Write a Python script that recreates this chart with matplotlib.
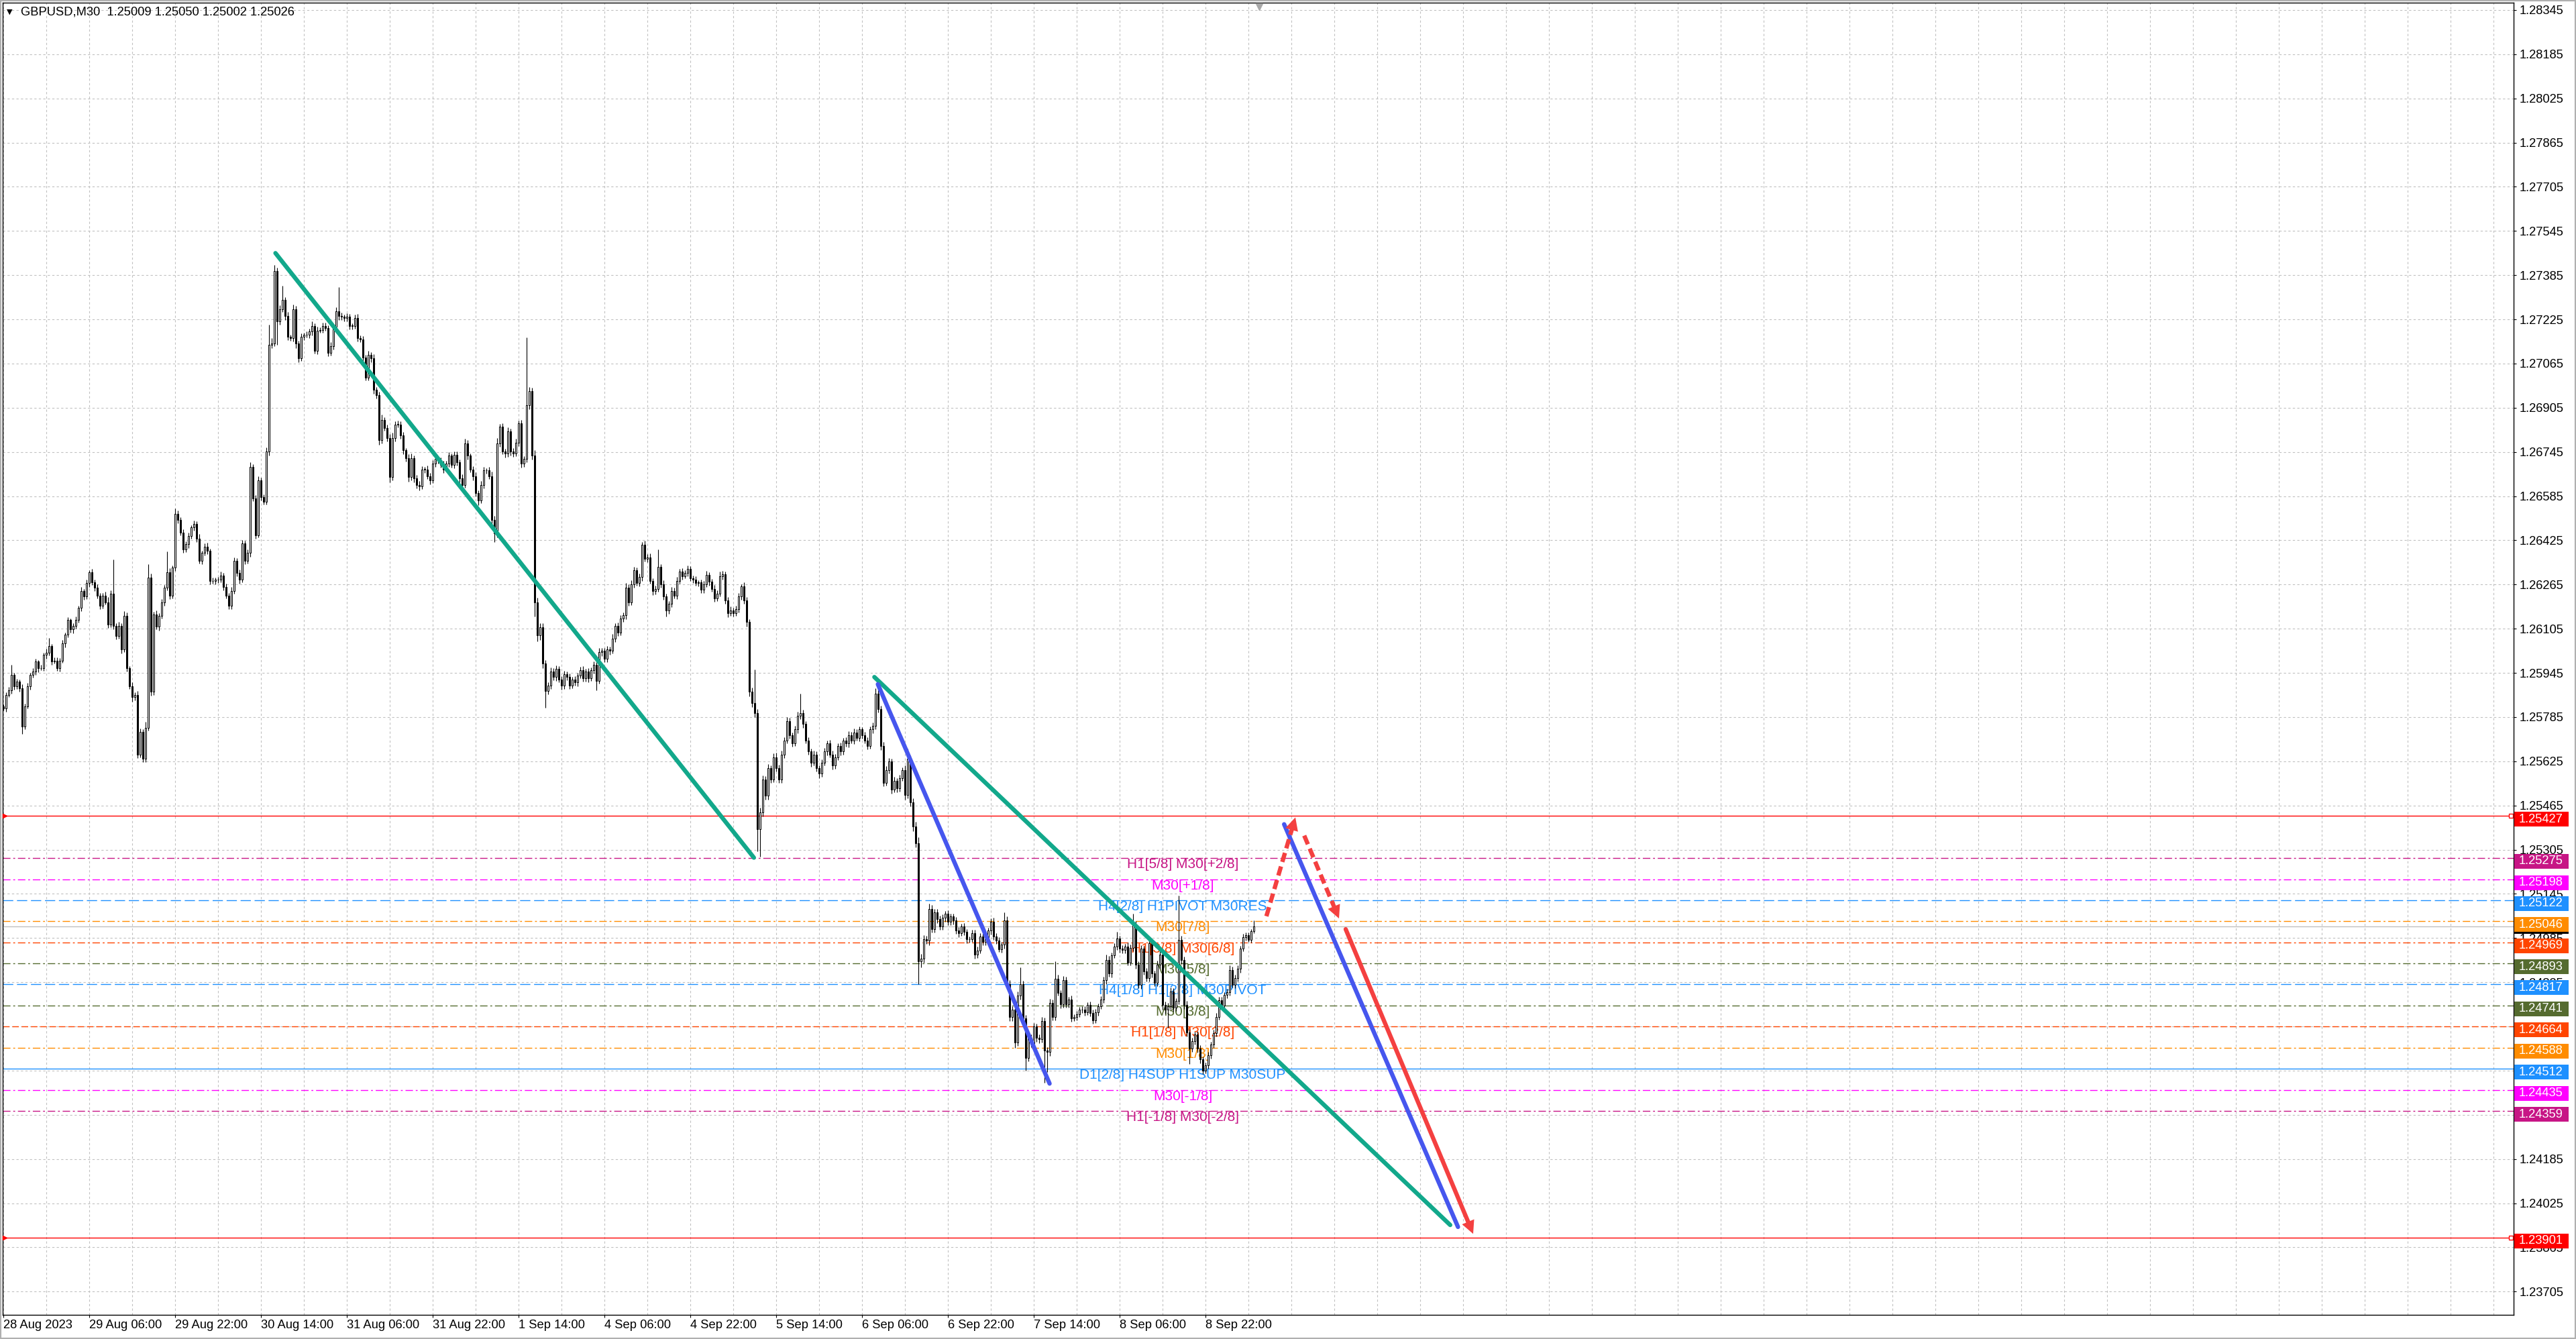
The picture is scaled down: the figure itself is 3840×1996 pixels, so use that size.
import numpy as np
import matplotlib.pyplot as plt
from matplotlib.patches import Rectangle
from matplotlib.transforms import IdentityTransform, blended_transform_factory

# GBPUSD M30, prices in points above 1.20000 (1 point = 0.00001)
first_open = 5824
closes = [
    5816, 5865, 5881, 5937, 5897, 5913, 5889, 5751, 5824, 5897,
    5937, 5950, 5986, 5962, 5962, 6010, 6018, 6043, 5986, 5990,
    5962, 5990, 6051, 6083, 6136, 6103, 6116, 6136, 6180, 6241,
    6221, 6270, 6310, 6274, 6253, 6225, 6189, 6225, 6201, 6120,
    6233, 6116, 6079, 6116, 6031, 6152, 5962, 5897, 5857, 5865,
    5650, 5731, 5634, 5747, 6290, 5877, 6156, 6112, 6152, 6201,
    6253, 6310, 6225, 6326, 6521, 6500, 6452, 6391, 6411, 6440,
    6472, 6484, 6432, 6350, 6379, 6403, 6387, 6278, 6278, 6282,
    6282, 6298, 6257, 6225, 6189, 6241, 6350, 6306, 6282, 6415,
    6350, 6379, 6691, 6577, 6444, 6642, 6581, 6565, 6747, 7133,
    7137, 7400, 7218, 7262, 7295, 7238, 7161, 7157, 7262, 7137,
    7084, 7161, 7169, 7169, 7181, 7202, 7112, 7185, 7187, 7202,
    7194, 7104, 7129, 7198, 7254, 7238, 7234, 7230, 7234, 7202,
    7202, 7230, 7157, 7153, 7088, 7015, 7096, 7084, 6970, 6950,
    6788, 6861, 6832, 6796, 6654, 6796, 6845, 6845, 6804, 6751,
    6723, 6654, 6723, 6650, 6626, 6621, 6682, 6682, 6658, 6642,
    6703, 6719, 6715, 6699, 6682, 6703, 6731, 6699, 6735, 6707,
    6650, 6626, 6776, 6731, 6682, 6658, 6597, 6569, 6626, 6678,
    6678, 6658, 6500, 6450, 6776, 6836, 6747, 6739, 6820, 6747,
    6739, 6779, 6849, 6703, 6719, 6914, 6966, 6731, 6200, 6080,
    6110, 5980, 5880, 5900, 5950, 5930, 5960, 5920, 5900, 5940,
    5930, 5900, 5920, 5910, 5935, 5955, 5925, 5950, 5925, 5954,
    5974, 5916, 6020, 6025, 5995, 6029, 6025, 6070, 6116, 6091,
    6141, 6154, 6254, 6200, 6267, 6317, 6271, 6292, 6408, 6358,
    6363, 6279, 6242, 6250, 6329, 6267, 6221, 6171, 6196, 6242,
    6225, 6279, 6312, 6296, 6308, 6321, 6287, 6283, 6271, 6272,
    6246, 6267, 6300, 6275, 6250, 6216, 6233, 6296, 6302, 6208,
    6162, 6172, 6162, 6175, 6221, 6258, 6208, 6129, 5878, 5837,
    5799, 5380, 5440, 5560, 5500, 5600, 5560, 5640, 5600, 5560,
    5650, 5700, 5770, 5720, 5690, 5740, 5790, 5800, 5760, 5700,
    5660, 5620, 5650, 5600, 5580, 5620, 5660, 5690, 5650, 5610,
    5640, 5680, 5660, 5700, 5690, 5720, 5700, 5730, 5710, 5740,
    5720, 5700, 5681, 5740, 5753, 5870, 5814, 5681, 5548, 5594,
    5625, 5523, 5554, 5528, 5564, 5594, 5502, 5635, 5477, 5390,
    5329, 4900, 4910, 4981, 4976, 5089, 5017, 5078, 5053, 5027,
    5058, 5073, 5043, 5063, 5048, 5012, 5002, 5027, 5007, 4981,
    4981, 5002, 4925, 4940, 4991, 4971, 4981, 5012, 5043, 4991,
    4976, 4945, 4961, 5048, 4818, 4700, 4726, 4608, 4777, 4818,
    4695, 4552, 4624, 4603, 4664, 4624, 4618, 4685, 4578, 4573,
    4751, 4700, 4838, 4787, 4746, 4833, 4746, 4762, 4695, 4700,
    4710, 4726, 4726, 4717, 4742, 4713, 4688, 4717, 4738, 4762,
    4832, 4905, 4856, 4922, 4954, 4983, 4946, 4942, 4954, 4897,
    4950, 5032, 4889, 4815, 4946, 4864, 4840, 4967, 4856, 4823,
    4889, 4926, 4742, 4725, 4738, 4791, 4733, 4758, 4979, 4905,
    4742, 4644, 4586, 4611, 4635, 4586, 4545, 4504, 4525, 4560,
    4600, 4640, 4700, 4760, 4740, 4780, 4790, 4870, 4815, 4840,
    4873, 4946, 4987, 4995, 4979, 5009, 5026,
]
up_wick = [
    6, 9, 12, 37, 8, 10, 7, 14, 9, 11,
    8, 13, 10, 6, 12, 9, 15, 28, 7, 10,
    11, 8, 14, 9, 12, 7, 10, 13, 8, 16,
    9, 12, 7, 11, 8, 14, 10, 9, 13, 18,
    12, 122, 10, 14, 9, 16, 11, 8, 13, 10,
    15, 12, 9, 20, 48, 14, 11, 16, 9, 12,
    10, 75, 13, 8, 20, 11, 9, 14, 10, 12,
    8, 13, 10, 15, 9, 11, 14, 7, 12, 9,
    10, 13, 8, 11, 9, 16, 12, 10, 14, 11,
    9, 13, 18, 10, 12, 15, 9, 11, 14, 73,
    20, 21, 12, 15, 51, 10, 13, 9, 16, 12,
    11, 14, 8, 12, 10, 15, 9, 13, 8, 11,
    12, 10, 14, 9, 16, 88, 11, 8, 12, 10,
    9, 13, 15, 10, 12, 9, 14, 11, 16, 10,
    13, 20, 9, 12, 15, 18, 11, 14, 10, 12,
    9, 13, 16, 10, 12, 14, 11, 9, 13, 10,
    12, 15, 9, 11, 14, 10, 13, 8, 12, 11,
    10, 14, 18, 12, 9, 11, 13, 10, 15, 12,
    9, 12, 16, 14, 20, 11, 13, 9, 15, 10,
    12, 14, 10, 13, 11, 246, 15, 12, 20, 18,
    14, 16, 12, 10, 15, 11, 13, 9, 14, 12,
    10, 13, 11, 14, 9, 12, 15, 10, 13, 11,
    12, 9, 14, 11, 10, 13, 12, 15, 9, 11,
    13, 10, 16, 12, 14, 11, 9, 13, 10, 15,
    12, 14, 9, 11, 63, 10, 13, 12, 9, 14,
    11, 13, 10, 12, 9, 14, 11, 10, 13, 8,
    12, 10, 14, 9, 11, 13, 10, 15, 12, 9,
    11, 13, 10, 12, 14, 9, 16, 11, 10, 13,
    121, 15, 18, 14, 12, 16, 11, 13, 15, 12,
    14, 11, 16, 12, 10, 13, 15, 70, 12, 11,
    13, 10, 14, 12, 9, 11, 13, 10, 12, 14,
    11, 9, 13, 10, 12, 14, 11, 13, 10, 12,
    9, 11, 13, 10, 12, 20, 14, 11, 15, 13,
    12, 10, 14, 11, 13, 9, 15, 36, 12, 14,
    16, 22, 18, 14, 12, 20, 15, 13, 11, 14,
    12, 10, 13, 11, 9, 14, 12, 10, 13, 11,
    10, 13, 12, 14, 11, 9, 13, 10, 12, 15,
    11, 13, 10, 30, 16, 14, 12, 18, 15, 61,
    13, 11, 16, 12, 14, 10, 13, 15, 12, 11,
    14, 12, 62, 13, 10, 15, 12, 11, 14, 10,
    12, 9, 11, 13, 10, 12, 14, 11, 9, 13,
    12, 21, 14, 11, 13, 25, 10, 12, 9, 14,
    11, 41, 15, 12, 14, 10, 13, 16, 12, 11,
    13, 10, 14, 12, 11, 15, 13, 10, 159, 14,
    12, 15, 11, 13, 10, 14, 12, 11, 9, 13,
    10, 12, 14, 11, 13, 10, 12, 15, 11, 13,
    12, 10, 14, 9, 11, 8, 24,
]
down_wick = [
    8, 11, 7, 10, 13, 9, 12, 28, 10, 8,
    12, 9, 11, 14, 8, 10, 13, 9, 12, 7,
    10, 12, 9, 13, 8, 11, 14, 10, 9, 12,
    11, 8, 13, 10, 12, 9, 14, 11, 8, 13,
    10, 14, 12, 9, 15, 11, 13, 10, 16, 12,
    14, 11, 12, 13, 10, 15, 12, 9, 14, 11,
    12, 10, 13, 9, 11, 14, 10, 12, 8, 13,
    9, 11, 14, 10, 12, 8, 13, 11, 10, 12,
    11, 9, 13, 10, 12, 14, 9, 11, 13, 10,
    12, 10, 14, 11, 13, 9, 12, 10, 11, 14,
    12, 10, 85, 13, 11, 14, 12, 10, 13, 15,
    14, 10, 12, 9, 11, 13, 10, 12, 8, 11,
    10, 13, 11, 12, 9, 14, 10, 12, 11, 13,
    12, 10, 13, 11, 14, 12, 10, 13, 15, 11,
    16, 12, 10, 14, 18, 11, 13, 10, 12, 15,
    13, 16, 11, 14, 12, 15, 10, 13, 11, 14,
    10, 12, 13, 11, 14, 9, 12, 10, 13, 11,
    14, 12, 10, 13, 11, 15, 12, 16, 10, 13,
    11, 12, 20, 30, 14, 12, 10, 13, 11, 14,
    12, 10, 13, 15, 11, 12, 14, 13, 50, 20,
    15, 18, 60, 12, 14, 11, 13, 10, 15, 12,
    11, 14, 10, 12, 13, 9, 12, 11, 14, 10,
    12, 33, 10, 13, 11, 12, 14, 10, 12, 13,
    11, 10, 14, 12, 10, 13, 11, 12, 14, 10,
    13, 11, 14, 12, 10, 13, 12, 21, 11, 12,
    10, 13, 11, 12, 9, 14, 10, 12, 11, 13,
    11, 12, 10, 13, 12, 14, 11, 10, 13, 12,
    14, 11, 13, 10, 12, 11, 13, 15, 18, 16,
    14, 80, 100, 15, 13, 14, 12, 11, 13, 14,
    12, 14, 11, 13, 12, 10, 14, 12, 13, 11,
    12, 14, 11, 13, 15, 12, 10, 13, 11, 14,
    12, 10, 13, 11, 12, 14, 10, 12, 11, 13,
    12, 11, 13, 10, 14, 12, 13, 15, 14, 12,
    13, 15, 11, 14, 12, 10, 16, 12, 14, 18,
    15, 82, 20, 14, 12, 16, 13, 11, 14, 12,
    11, 13, 10, 12, 14, 11, 13, 10, 12, 14,
    12, 11, 14, 13, 10, 12, 11, 13, 14, 12,
    13, 11, 12, 14, 18, 16, 15, 20, 13, 14,
    15, 46, 14, 13, 12, 15, 14, 12, 118, 73,
    14, 12, 13, 11, 15, 12, 14, 13, 12, 11,
    13, 11, 12, 14, 10, 12, 13, 11, 12, 10,
    12, 14, 11, 13, 10, 12, 14, 11, 13, 12,
    11, 13, 14, 12, 15, 11, 13, 12, 14, 11,
    12, 14, 15, 13, 65, 12, 14, 11, 13, 15,
    13, 16, 57, 14, 12, 15, 13, 12, 8, 14,
    11, 13, 12, 10, 14, 11, 13, 12, 10, 12,
    11, 13, 10, 12, 9, 11, 7,
]

time_labels = ['28 Aug 2023', '29 Aug 06:00', '29 Aug 22:00', '30 Aug 14:00',
               '31 Aug 06:00', '31 Aug 22:00', '1 Sep 14:00', '4 Sep 06:00',
               '4 Sep 22:00', '5 Sep 14:00', '6 Sep 06:00', '6 Sep 22:00',
               '7 Sep 14:00', '8 Sep 06:00', '8 Sep 22:00']

# murrey math levels
level_prices = [1.25427, 1.25275, 1.25198, 1.25122, 1.25046, 1.24969, 1.24893,
                1.24817, 1.24741, 1.24664, 1.24588, 1.24512, 1.24435, 1.24359, 1.23901]
level_colors = ['#FF0000', '#C71585', '#FF00FF', '#1E90FF', '#FF8C00', '#FF4500', '#556B2F',
                '#1E90FF', '#556B2F', '#FF4500', '#FF8C00', '#1E90FF', '#FF00FF', '#C71585', '#FF0000']
level_texts = [None, 'H1[5/8] M30[+2/8]', 'M30[+1/8]', 'H4[2/8] H1PIVOT M30RES', 'M30[7/8]',
               'H1[3/8] M30[6/8]', 'M30[5/8]', 'H4[1/8] H1[2/8] M30PIVOT', 'M30[3/8]',
               'H1[1/8] M30[2/8]', 'M30[1/8]', 'D1[2/8] H4SUP H1SUP M30SUP', 'M30[-1/8]',
               'H1[-1/8] M30[-2/8]', None]
DD = (0, (8, 3, 2, 3))
LD = (0, (11, 4))
level_styles = ['-', DD, DD, LD, DD, DD, DD, LD, DD, (0, (7, 3)), DD, '-', DD, DD, '-']
bid_price = 1.25026

# drawn objects (bar index, price)
green_lines = [((101.4, 1.27465), (279.7, 1.25276)), ((324.6, 1.25930), (539.2, 1.23946))]
blue_lines = [((325.9, 1.25904), (389.9, 1.24458)), ((477.3, 1.25397), (542.1, 1.23939))]
red_dashed_arrows = [((470.7, 1.25064), (481.5, 1.25422)), ((484.8, 1.25356), (497.75, 1.25056))]
red_arrow = ((500.25, 1.25017), (547.75, 1.23914))

FONT = 'Liberation Sans'
W, H = 3840, 1996
fig = plt.figure(figsize=(W / 100, H / 100), dpi=100)
ax = fig.add_axes([4 / W, 36 / H, 3743 / W, 1956 / H])
ax.set_xlim(-0.25, 935.5)
ax.set_ylim(1.236207, 1.283717)

# grid
yticks = np.arange(1.23705, 1.2836, 0.0016)
for p in yticks:
    ax.axhline(p, color='#c0c0c0', lw=0.8, ls=(0, (3, 3)), zorder=0.5)
for b in range(0, 936, 16):
    ax.axvline(b, color='#c0c0c0', lw=0.8, ls=(0, (3, 3)), zorder=0.5)

# levels
for p, col, ls, txt in zip(level_prices, level_colors, level_styles, level_texts):
    ax.axhline(p, color=col, lw=1.0, ls=ls, zorder=1)
    if txt:
        ax.text(439.5, p, txt, color=col, fontsize=15, family=FONT, ha='center', va='top', zorder=1.5)
ax.axhline(bid_price, color='#c0c0c0', lw=1.0, zorder=1)

# candles
c = 1.2 + np.array(closes) / 1e5
o = np.r_[1.2 + first_open / 1e5, c[:-1]]
hi = np.maximum(o, c) + np.array(up_wick) / 1e5
lo = np.minimum(o, c) - np.array(down_wick) / 1e5
x = np.arange(len(c))
ax.vlines(x, lo, hi, color='black', lw=0.8, zorder=3)
bull = c >= o
hgt = np.maximum(np.abs(c - o), 0.000004)
ax.bar(x[bull], hgt[bull], bottom=o[bull], width=0.7, color='white', edgecolor='black', lw=0.75, zorder=3.1)
ax.bar(x[~bull], hgt[~bull], bottom=c[~bull], width=0.7, color='black', edgecolor='black', lw=0.75, zorder=3.1)

# trend lines
for (a, b) in green_lines:
    ax.plot([a[0], b[0]], [a[1], b[1]], color='#12A88B', lw=4.6, solid_capstyle='round', zorder=4)
for (a, b) in blue_lines:
    ax.plot([a[0], b[0]], [a[1], b[1]], color='#4656EE', lw=4.6, solid_capstyle='round', zorder=4)

RED = '#F44040'


def arrow(p0, p1, dashed):
    a = ax.transData.transform(p0)
    b = ax.transData.transform(p1)
    d = b - a
    cut = ax.transData.inverted().transform(b - d / np.hypot(*d) * 16)
    kw = dict(dashes=(2.2, 1.1), dash_capstyle='butt') if dashed else dict(solid_capstyle='round')
    ax.plot([p0[0], cut[0]], [p0[1], cut[1]], color=RED, lw=4.6, zorder=4, **kw)
    ax.annotate('', xy=p1, xytext=tuple(cut), zorder=4,
                arrowprops=dict(arrowstyle='-|>,head_length=1.0,head_width=0.5', mutation_scale=14,
                                color=RED, lw=0, shrinkA=0, shrinkB=0))


for a, b in red_dashed_arrows:
    arrow(a, b, True)
arrow(red_arrow[0], red_arrow[1], False)

# axes styling
for s in ax.spines.values():
    s.set_color('black')
    s.set_linewidth(1.0)
ax.yaxis.tick_right()
ax.set_yticks(yticks)
ax.set_yticklabels(['%.5f' % p for p in yticks], family=FONT, fontsize=13.2)
ax.tick_params(axis='y', length=3, width=0.8, pad=3.5, colors='black')
ax.set_xticks(np.arange(len(time_labels)) * 32)
ax.set_xticklabels(time_labels, family=FONT, fontsize=13.2, ha='left')
ax.tick_params(axis='x', length=3, width=0.8, pad=2, colors='black')

# right side price labels (bid label sits under the 1.25046 one)
fig.canvas.draw()
x_right = ax.get_position().x1 * W
yb = ax.transData.transform((0, bid_price))[1]
fig.add_artist(Rectangle((x_right + 1, yb - 11), 81, 22, transform=IdentityTransform(),
                         facecolor='black', edgecolor='none', zorder=9))
for p, col in zip(level_prices, level_colors):
    yd = ax.transData.transform((0, p))[1] - 5
    fig.add_artist(Rectangle((x_right + 1, yd - 11), 81, 22, transform=IdentityTransform(),
                             facecolor=col, edgecolor='none', zorder=10))
    fig.text(x_right + 8, yd, '%.5f' % p, transform=IdentityTransform(), color='white',
             family=FONT, fontsize=13.2, va='center', ha='left', zorder=11)

# line end markers on red levels
bt = blended_transform_factory(ax.transAxes, ax.transData)
for p, col in zip(level_prices, level_colors):
    if col == '#FF0000':
        ax.plot([0.9988], [p], marker='s', ms=4, mfc='white', mec='#FF0000', mew=1, transform=bt,
                clip_on=False, zorder=5)
        ax.plot([0.0008], [p], marker='>', ms=4, color='#FF0000', transform=bt, clip_on=False, zorder=5)

# chart shift marker
ax.plot([len(closes) + 1], [0.997], marker='v', ms=7, color='#a8a8a8',
        transform=blended_transform_factory(ax.transData, ax.transAxes), clip_on=False, zorder=5)

# header
fig.text(10 / W, 1 - 18 / H, '\u25BC', family='DejaVu Sans', fontsize=8, va='center', ha='left')
fig.text(31 / W, 1 - 18 / H, 'GBPUSD,M30  1.25009 1.25050 1.25002 1.25026', family=FONT,
         fontsize=13.2, va='center', ha='left', color='black')

# window border
fig.add_artist(Rectangle((0, 0), 1, 1, transform=fig.transFigure, fill=False, edgecolor='#b0b0b0', lw=3))

fig.savefig('out.png', dpi=100, facecolor='white')
